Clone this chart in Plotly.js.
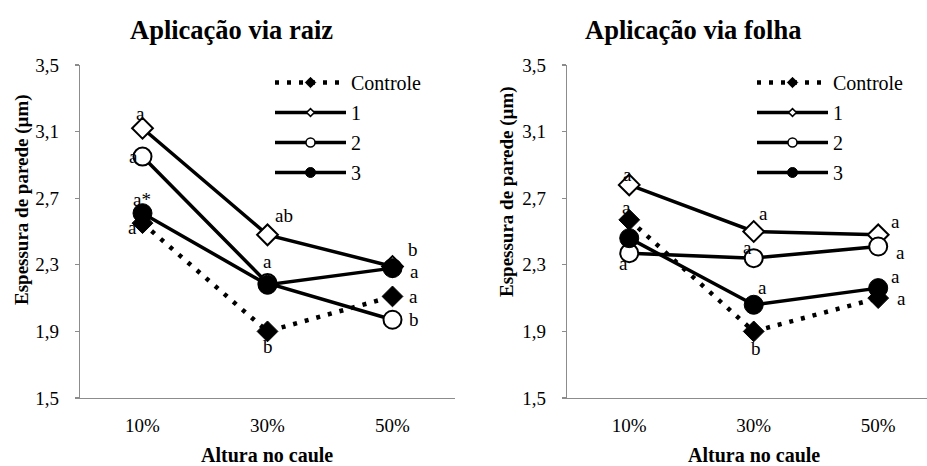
<!DOCTYPE html>
<html>
<head>
<meta charset="utf-8">
<script src="https://cdn.plot.ly/plotly-3.0.1.min.js"></script>
<style>html,body{margin:0;padding:0;background:#fff;}#chart{width:927px;height:466px;}</style>
</head>
<body>
<div id="chart"></div>
<script>
// ---- data ----
var categories = ['10%', '30%', '50%'];
var seriesNames = ['Controle', '1', '2', '3'];

var raizControle = [2.55, 1.90, 2.11];
var raiz1 = [3.12, 2.48, 2.29];
var raiz2 = [2.95, 2.19, 1.97];
var raiz3 = [2.61, 2.18, 2.28];

var folhaControle = [2.57, 1.90, 2.10];
var folha1 = [2.78, 2.50, 2.48];
var folha2 = [2.37, 2.34, 2.41];
var folha3 = [2.46, 2.06, 2.16];

var raizLetras = [['a', 'b', 'a'], ['a', 'ab', 'b'], ['a', '', 'b'], ['a*', 'a', 'a']];
var folhaLetras = [['a', 'b', 'a'], ['a', 'a', 'a'], ['a', 'a', 'a'], ['', 'a', 'a']];

var yTickVals = [1.5, 1.9, 2.3, 2.7, 3.1, 3.5];

var panelTitles = ['Aplicação via raiz', 'Aplicação via folha'];
var xTitle = 'Altura no caule';
var yTitle = 'Espessura de parede (µm)';

// ---- styling ----
var FONT = 'Liberation Serif';
var W = 927, H = 466;
function px(x) { return x / W; }
function py(y) { return 1 - y / H; }

var styles = [
  {line: {color: '#000', width: 4.5, dash: '4px,8px'}, marker: {symbol: 'diamond', size: 16, color: '#000', line: {color: '#000', width: 1}}, legMarker: {symbol: 'diamond', size: 8, color: '#000', line: {color: '#000', width: 1}}},
  {line: {color: '#000', width: 3.5}, marker: {symbol: 'diamond', size: 16, color: '#fff', line: {color: '#000', width: 2}}, legMarker: {symbol: 'diamond', size: 6, color: '#fff', line: {color: '#000', width: 1.5}}},
  {line: {color: '#000', width: 3.5}, marker: {symbol: 'circle', size: 18, color: '#fff', line: {color: '#000', width: 2}}, legMarker: {symbol: 'circle', size: 9, color: '#fff', line: {color: '#000', width: 1.5}}},
  {line: {color: '#000', width: 3.5}, marker: {symbol: 'circle', size: 19, color: '#000', line: {color: '#000', width: 1}}, legMarker: {symbol: 'circle', size: 10, color: '#000', line: {color: '#000', width: 1}}}
];

// label offsets [xshift, yshift] per panel / series / category
var raizOffsets = [
  [[-10, -4], [0, -15], [21, 0]],
  [[-2, 15], [16, 19], [20, 17]],
  [[-9, 0], [0, 0], [21, 0]],
  [[-1, 14], [0, 23], [22, -3]]
];
var folhaOffsets = [
  [[-3, 12], [2, -17], [23, 0]],
  [[-2, 10], [10, 18], [17, 13]],
  [[-6, -10], [-6, 11], [22, -6]],
  [[0, 0], [9, 17], [17, 12]]
];

var panels = [
  {values: [raizControle, raiz1, raiz2, raiz3], letters: raizLetras, offsets: raizOffsets, xa: 'x', ya: 'y', legend: 'legend'},
  {values: [folhaControle, folha1, folha2, folha3], letters: folhaLetras, offsets: folhaOffsets, xa: 'x2', ya: 'y2', legend: 'legend2'}
];

var traces = [];
var annotations = [];

panels.forEach(function (p) {
  p.values.forEach(function (vals, i) {
    traces.push({
      type: 'scatter', mode: 'lines+markers', x: categories, y: vals,
      xaxis: p.xa, yaxis: p.ya, name: seriesNames[i], showlegend: false,
      line: styles[i].line, marker: styles[i].marker, hoverinfo: 'x+y'
    });
  });
  p.values.forEach(function (vals, i) {
    traces.push({
      type: 'scatter', mode: 'lines+markers', x: [null], y: [null],
      xaxis: p.xa, yaxis: p.ya, name: seriesNames[i], legend: p.legend,
      legendgroup: p.legend + 'g' + i,
      line: styles[i].line, marker: styles[i].legMarker
    });
  });
  p.letters.forEach(function (row, i) {
    row.forEach(function (t, j) {
      if (!t) return;
      annotations.push({
        xref: p.xa, yref: p.ya, x: categories[j], y: p.values[i][j], text: t,
        showarrow: false, xshift: p.offsets[i][j][0], yshift: p.offsets[i][j][1],
        font: {family: FONT, size: 19, color: '#000'}
      });
    });
  });
});

var titlePos = [[231, 30], [693, 30]];
var yTitlePos = [[22, 200], [507, 192]];
var xTitlePos = [[267, 455], [754, 455]];
for (var k = 0; k < 2; k++) {
  annotations.push({xref: 'paper', yref: 'paper', x: px(titlePos[k][0]), y: py(titlePos[k][1]), xanchor: 'center', yanchor: 'middle',
    text: '<b>' + panelTitles[k] + '</b>', showarrow: false, font: {family: FONT, size: 26.5, color: '#000'}});
  annotations.push({xref: 'paper', yref: 'paper', x: px(yTitlePos[k][0]), y: py(yTitlePos[k][1]), xanchor: 'center', yanchor: 'middle',
    text: '<b>' + yTitle + '</b>', textangle: -90, showarrow: false, font: {family: FONT, size: 19, color: '#000'}});
  annotations.push({xref: 'paper', yref: 'paper', x: px(xTitlePos[k][0]), y: py(xTitlePos[k][1]), xanchor: 'center', yanchor: 'middle',
    text: '<b>' + xTitle + '</b>', showarrow: false, font: {family: FONT, size: 20, color: '#000'}});
}

var yDomain = [py(398), py(65)];
function xaxis(domain, range) {
  return {domain: domain, range: range, type: 'category', showline: true, linecolor: '#8c8c8c', linewidth: 1.3,
    ticks: '', showgrid: false, zeroline: false, fixedrange: true, ticklabelstandoff: 10,
    tickfont: {family: FONT, size: 19, color: '#000'}};
}
function yaxis(anchor) {
  return {domain: yDomain, range: [1.5, 3.5], anchor: anchor, tickvals: yTickVals, tickformat: '.1f',
    showline: true, linecolor: '#8c8c8c', linewidth: 1.3, ticks: 'outside', ticklen: 4, tickcolor: '#8c8c8c', tickwidth: 1.3,
    showgrid: false, zeroline: false, ticklabelstandoff: 12, fixedrange: true,
    tickfont: {family: FONT, size: 19, color: '#000'}};
}
function legend(x) {
  return {x: px(x), y: py(63), xanchor: 'left', yanchor: 'top', bgcolor: 'rgba(0,0,0,0)', borderwidth: 0,
    itemwidth: 71, tracegroupgap: 1, traceorder: 'grouped', font: {family: FONT, size: 20, color: '#000'}};
}

var layout = {
  width: W, height: H, margin: {l: 0, r: 0, t: 0, b: 0, pad: 0},
  paper_bgcolor: '#fff', plot_bgcolor: '#fff', separators: ',.',
  showlegend: true,
  xaxis: xaxis([px(80), px(455)], [-0.5, 2.5]),
  yaxis: yaxis('x'),
  xaxis2: xaxis([px(567), 1], [-0.5, 2.392]),
  yaxis2: yaxis('x2'),
  legend: legend(270),
  legend2: legend(752),
  annotations: annotations,
  font: {family: FONT, color: '#000'}
};

Plotly.newPlot('chart', traces, layout, {displayModeBar: false, staticPlot: true});
</script>
</body>
</html>
